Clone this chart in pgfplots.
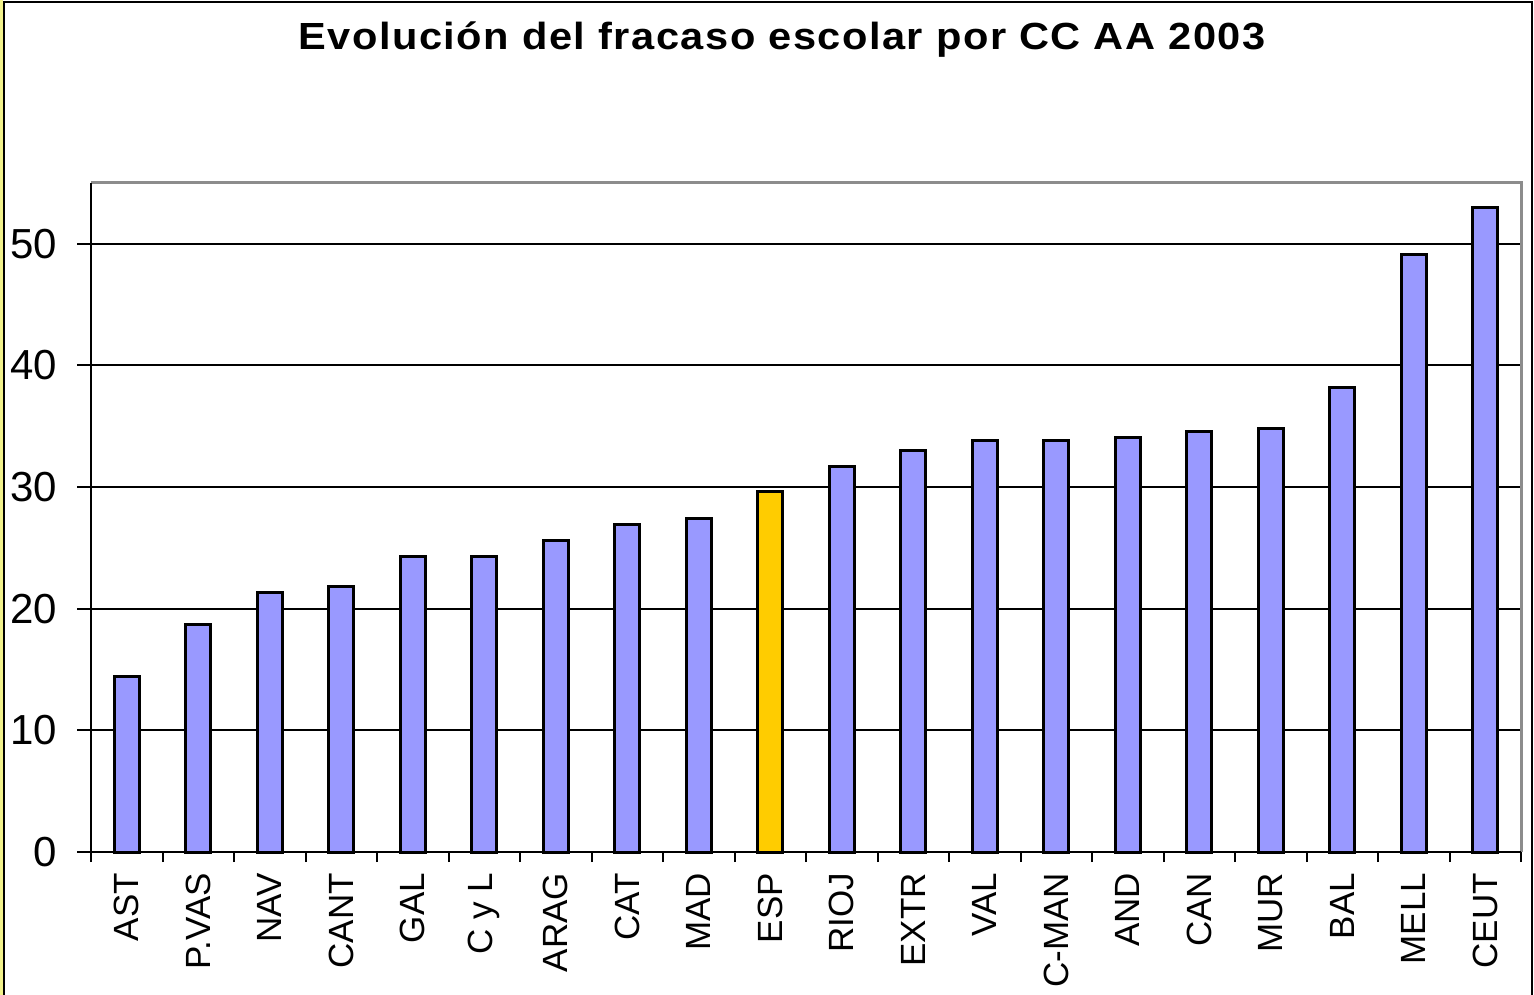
\documentclass[border=0pt]{standalone}
\usepackage{pgfplots}
\pgfplotsset{compat=1.18}
\usepackage{fontspec}
\setmainfont{Liberation Sans}
\newfontfamily\titlefont[LetterSpace=4,FakeStretch=1.1]{Liberation Sans}
\definecolor{barblue}{HTML}{9999FF}
\definecolor{bargold}{HTML}{FFCC00}
\definecolor{framegray}{HTML}{8C8C8C}
\definecolor{frameyellow}{HTML}{F2F28C}
\begin{document}
\begin{tikzpicture}
\useasboundingbox (0,0) rectangle (767bp,497.5bp);
\fill[white] (0,0) rectangle (767bp,497.5bp);
\draw[frameyellow, line width=1.5bp] (0.75bp,-2bp) -- (0.75bp,499bp);
\draw[black, line width=1bp] (2bp,-5bp) -- (2bp,496.5bp) -- (766bp,496.5bp) -- (766bp,-5bp);
\node[anchor=base, font=\fontsize{18.9bp}{23bp}\titlefont\bfseries] at (391bp,472.5bp) {Evolución del fracaso escolar por CC AA 2003};
\begin{axis}[
  at={(45.5bp,71.5bp)}, anchor=south west,
  scale only axis, width=715bp, height=334.5bp,
  xmin=-0.5, xmax=19.5, ymin=0, ymax=55,
  ybar, bar width=12.5bp, bar shift=0pt,
  axis line style={draw=none},
  ytick={0,10,20,30,40,50},
  ymajorgrids, grid style={black, line width=1bp},
  xtick={0,...,19},
  xticklabels={AST,P.VAS,NAV,CANT,GAL,C y L,ARAG,CAT,MAD,ESP,RIOJ,EXTR,VAL,C-MAN,AND,CAN,MUR,BAL,MELL,CEUT},
  minor xtick={-0.5,0.5,...,19.5},
  tick align=outside,
  x tick style={draw=none},
  minor x tick style={draw=black, line width=1bp},
  minor tick length=5bp,
  y tick style={black, line width=1bp},
  major tick length=7bp,
  xticklabel style={rotate=90, anchor=east, font=\fontsize{17.5bp}{21bp}\selectfont},
  yticklabel style={xshift=-6.5bp, font=\fontsize{21bp}{25bp}\selectfont},
  /pgf/number format/assume math mode=true,
  tick pos=left,
  clip=false,
]
\addplot[fill=barblue, draw=black, line width=1.5bp] coordinates {
(0,14.4) (1,18.7) (2,21.3) (3,21.8) (4,24.3) (5,24.3) (6,25.6) (7,26.9) (8,27.4)
(10,31.7) (11,33.0) (12,33.8) (13,33.8) (14,34.1) (15,34.6) (16,34.8) (17,38.2) (18,49.1) (19,53.0)};
\addplot[fill=bargold, draw=black, line width=1.5bp] coordinates {(9,29.6)};
\draw[framegray, line width=1.5bp] (rel axis cs:0,1) -- (rel axis cs:1,1) -- (rel axis cs:1,0);
\draw[black, line width=1.2bp] (rel axis cs:0,1) -- (rel axis cs:0,0) -- (rel axis cs:1,0);
\end{axis}
\end{tikzpicture}
\end{document}
